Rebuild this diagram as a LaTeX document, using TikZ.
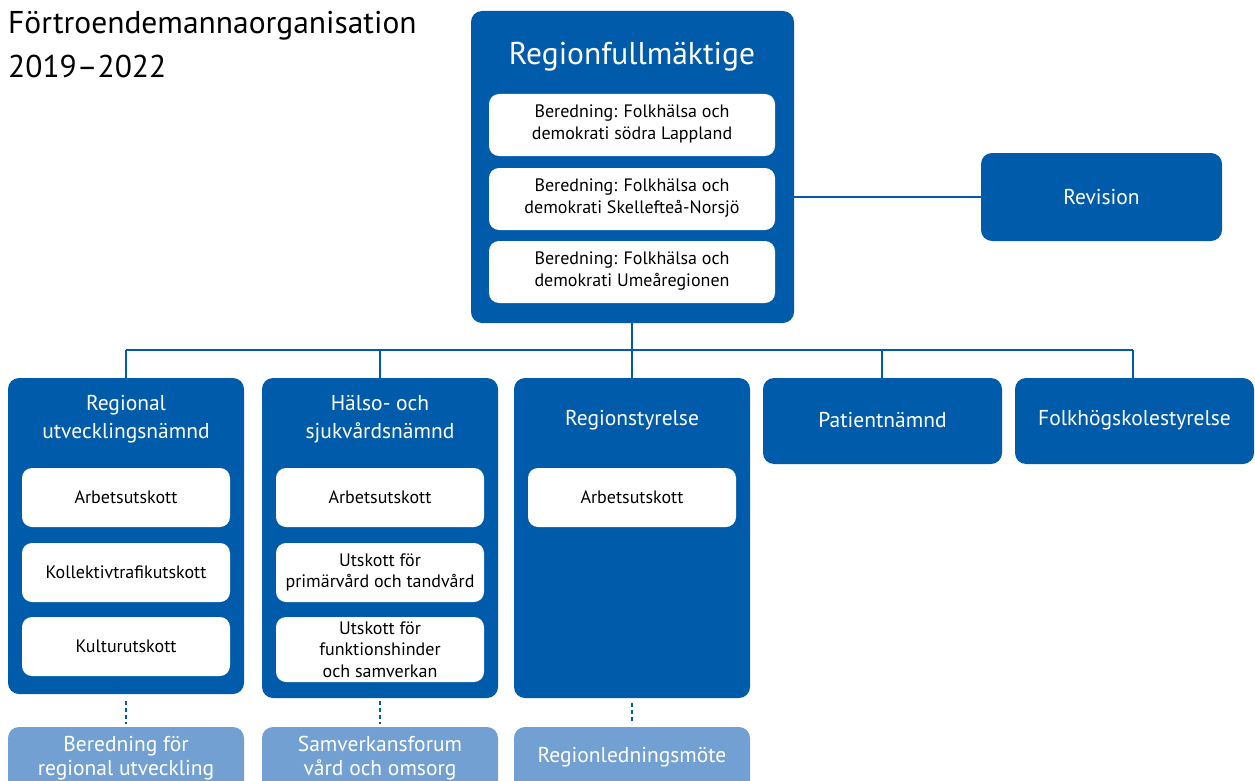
\documentclass[tikz,border=0pt]{standalone}
\usepackage{fontspec}
\setmainfont{PT Sans}
\definecolor{dblue}{HTML}{005BAA}
\definecolor{lblue}{HTML}{72A0D2}
\begin{document}
\begin{tikzpicture}[x=1pt,y=-1pt,
  bigbox/.style={fill=dblue,rounded corners=11pt,draw=none},
  subbox/.style={fill=white,rounded corners=10pt,draw=none},
  lowbox/.style={fill=lblue,rounded corners=11pt,draw=none},
  wtxt/.style={text=white,align=center,font=\fontsize{21.5}{28}\selectfont},
  ltxt/.style={text=white,align=center,font=\fontsize{21.5}{23.5}\selectfont},
  btxt/.style={text=black,align=center,font=\fontsize{18}{21.5}\selectfont},
  conn/.style={draw=dblue,line width=2pt},
  dconn/.style={draw=dblue,line width=2pt,dash pattern=on 4pt off 3pt}]
\useasboundingbox (0,0) rectangle (1255,781);
\clip (0,0) rectangle (1255,781);
% title
\node[anchor=north west,align=left,inner sep=0pt,font=\fontsize{31.5}{44}\selectfont] (title) at (8,11) {Förtroendemannaorganisation\\2019–2022};
% top
\path[bigbox] (471,11) rectangle (794,323);
\coordinate (rfTop) at (632,323);
\coordinate (rfRight) at (794,197);
\node[wtxt,font=\fontsize{31.5}{34}\selectfont] (rf) at (632,57) {Regionfullmäktige};
\path[subbox] (489,94) rectangle (775,156);
\node[btxt] (b1) at (632,124) {Beredning: Folkhälsa och\\demokrati södra Lappland};
\path[subbox] (489,168) rectangle (775,230);
\node[btxt] (b2) at (632,198) {Beredning: Folkhälsa och\\demokrati Skellefteå-Norsjö};
\path[subbox] (489,241) rectangle (775,303);
\node[btxt] (b3) at (632,271) {Beredning: Folkhälsa och\\demokrati Umeåregionen};
% revision
\path[bigbox] (981,153) rectangle (1222,241);
\coordinate (revLeft) at (981,197);
\node[wtxt] (rev) at (1101.5,197) {Revision};
\draw[conn] (rfRight) -- (revLeft);
% second row
\path[bigbox] (8,378) rectangle (244,694);
\node[wtxt] (run) at (126,419) {Regional\\utvecklingsnämnd};
\path[subbox] (22,468) rectangle (230,527);
\node[btxt] (r1) at (126,497.5) {Arbetsutskott};
\path[subbox] (22,543) rectangle (230,602);
\node[btxt] (r2) at (126,572.5) {Kollektivtrafikutskott};
\path[subbox] (22,617) rectangle (230,676);
\node[btxt] (r3) at (126,646.5) {Kulturutskott};

\path[bigbox] (262,378) rectangle (498,698);
\node[wtxt] (hsn) at (380,419) {Hälso- och\\sjukvårdsnämnd};
\path[subbox] (276,468) rectangle (484,527);
\node[btxt] (h1) at (380,497.5) {Arbetsutskott};
\path[subbox] (276,543) rectangle (484,602);
\node[btxt] (h2) at (380,572.5) {Utskott för\\primärvård och tandvård};
\path[subbox] (276,617) rectangle (484,682);
\node[btxt] (h3) at (380,649.5) {Utskott för\\funktionshinder\\och samverkan};

\path[bigbox] (514,378) rectangle (750,698);
\node[wtxt] (rs) at (632,420) {Regionstyrelse};
\path[subbox] (528,468) rectangle (736,527);
\node[btxt] (s1) at (632,497.5) {Arbetsutskott};

\path[bigbox] (763,378) rectangle (1002,464);
\node[wtxt] (pn) at (882.5,420) {Patientnämnd};
\path[bigbox] (1015,378) rectangle (1254,464);
\node[wtxt] (fh) at (1134.5,420) {Folkhögskolestyrelse};

% connectors
\coordinate (j1) at (126,350);
\coordinate (j2) at (380,350);
\coordinate (j3) at (632,350);
\coordinate (j4) at (882,350);
\coordinate (j5) at (1133,350);
\draw[conn] (j1) -- (j5);
\draw[conn] (rfTop) -- (632,378);
\draw[conn] (j1) -- (126,378);
\draw[conn] (j2) -- (380,378);
\draw[conn] (j4) -- (882,378);
\draw[conn] (j5) -- (1133,378);
% bottom row
\path[lowbox] (8,727) rectangle (244,800);
\node[ltxt] (l1) at (126,758) {Beredning för\\regional utveckling};
\path[lowbox] (262,727) rectangle (498,800);
\node[ltxt] (l2) at (380,758) {Samverkansforum\\vård och omsorg};
\path[lowbox] (514,727) rectangle (750,800);
\node[ltxt] (l3) at (632,757) {Regionledningsmöte};
\draw[dconn] (126,701) -- (126,724);
\draw[dconn] (380,701) -- (380,724);
\draw[dconn] (632,703) -- (632,724);
\end{tikzpicture}
\end{document}
